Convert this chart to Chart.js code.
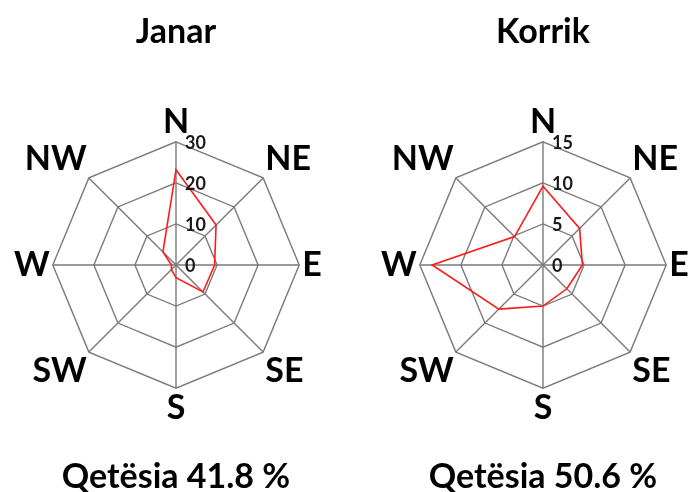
<!DOCTYPE html>
<html>
<head>
<meta charset="utf-8">
<script src="https://cdn.jsdelivr.net/npm/chart.js@4.4.1/dist/chart.umd.min.js"></script>
<style>
  html, body { margin: 0; padding: 0; background: #fff; width: 692px; height: 492px; overflow: hidden; position: relative; }
  canvas { position: absolute; top: 0; }
  #janar { left: -34px; }
  #korrik { left: 333px; }
</style>
</head>
<body>
<canvas id="janar" width="420" height="492"></canvas>
<canvas id="korrik" width="420" height="492"></canvas>
<script>
const directions = ['N', 'NE', 'E', 'SE', 'S', 'SW', 'W', 'NW'];

const janarValues = [23.2, 13.8, 9.4, 9.3, 3.1, 1.6, 1.1, 4.5];
const korrikValues = [9.6, 6.3, 4.8, 4.1, 5.0, 7.6, 13.5, 4.9];

const janarTicks = { max: 30, step: 10 };
const korrikTicks = { max: 15, step: 5 };

const fontFamily = 'Lato, "Open Sans", sans-serif';
const gridColor = '#7a7a7a';

// numbers on the N axis sit to the right of it, so draw them ourselves
const tickLabelsPlugin = {
  id: 'tickLabels',
  afterDraw(chart) {
    const scale = chart.scales.r;
    const { ctx } = chart;
    ctx.save();
    ctx.font = `bold 18px ${fontFamily}`;
    ctx.fillStyle = '#1a1a1a';
    ctx.textAlign = 'left';
    ctx.textBaseline = 'middle';
    scale.ticks.forEach((tick) => {
      const pos = scale.getPointPositionForValue(0, tick.value);
      ctx.fillText(String(tick.value), pos.x + 9, pos.y + 1);
    });
    ctx.restore();
  },
};

createRadarChart('janar', 'Janar', 'Qetësia 41.8 %', janarValues, janarTicks);
createRadarChart('korrik', 'Korrik', 'Qetësia 50.6 %', korrikValues, korrikTicks);

function createRadarChart(canvasId, title, subtitle, values, ticks) {
  const ctx = document.getElementById(canvasId).getContext('2d');

  new Chart(ctx, {
    type: 'radar',
    data: {
      labels: directions,
      datasets: [{
        data: values,
        borderColor: '#ff1a1a',
        borderWidth: 1.6,
        pointRadius: 0,
        fill: false,
      }],
    },
    options: {
      responsive: false,
      animation: false,
      layout: {
        padding: { left: 10, right: 10, top: 0, bottom: 0 },
      },
      plugins: {
        legend: { display: false },
        tooltip: { enabled: false },
        title: {
          display: true,
          text: title,
          color: '#000',
          font: { family: fontFamily, size: 34, weight: 'bold', lineHeight: 1.2 },
          padding: { top: 12, bottom: 52 },
        },
        subtitle: {
          display: true,
          position: 'bottom',
          text: subtitle,
          color: '#000',
          font: { family: fontFamily, size: 34, weight: 'bold', lineHeight: 0.8 },
          padding: { top: 37, bottom: 1 },
        },
      },
      scales: {
        r: {
          min: 0,
          max: ticks.max,
          ticks: { stepSize: ticks.step, display: false },
          grid: { color: gridColor, lineWidth: 1.4 },
          angleLines: { color: gridColor, lineWidth: 1.4 },
          pointLabels: {
            color: '#000',
            padding: 3,
            font: { family: fontFamily, size: 34, weight: 'bold', lineHeight: 1 },
          },
        },
      },
    },
    plugins: [tickLabelsPlugin],
  });
}
</script>
</body>
</html>
